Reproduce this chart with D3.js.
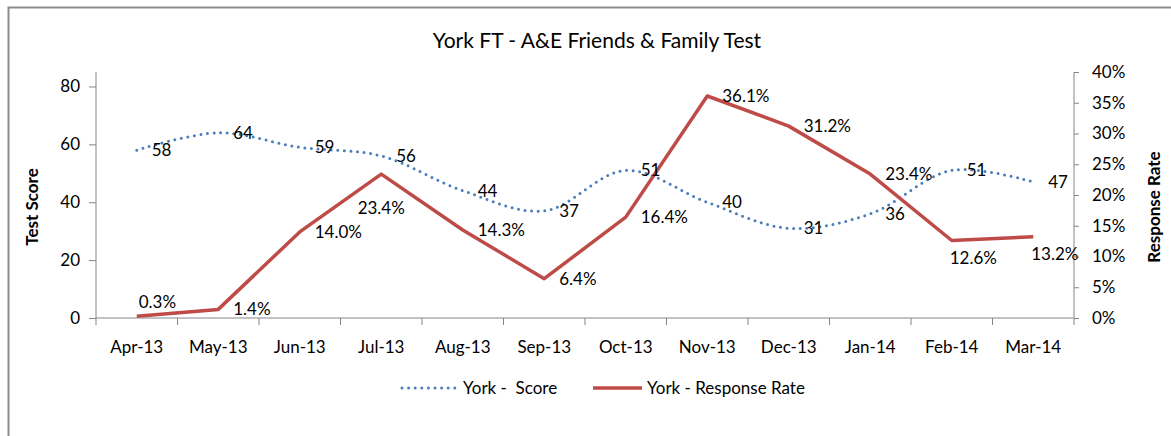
<!DOCTYPE html>
<html>
<head>
<meta charset="utf-8">
<script src="https://cdn.jsdelivr.net/npm/d3@7"></script>
<style>
  body { margin: 0; background: #fff; }
  text { font-family: Lato, "Open Sans", sans-serif; fill: #000; }
</style>
</head>
<body>
<svg id="chart"></svg>
<script>
// données
var months = ["Apr-13","May-13","Jun-13","Jul-13","Aug-13","Sep-13","Oct-13","Nov-13","Dec-13","Jan-14","Feb-14","Mar-14"];
var score = [58, 64, 59, 56, 44, 37, 51, 40, 31, 36, 51, 47];
var rate = [0.003, 0.014, 0.140, 0.234, 0.143, 0.064, 0.164, 0.361, 0.312, 0.234, 0.126, 0.132];
var scoreTicks = [0, 20, 40, 60, 80];
var rateTicks = [0, 0.05, 0.10, 0.15, 0.20, 0.25, 0.30, 0.35, 0.40];
// position des étiquettes de la courbe rouge
var rateLabelPos = ["up","right","right","below","right","right","right","right","right","right","low","low"];

var w = 1171, h = 436;
var pLeft = 96, pRight = 1074, pTop = 72, pBottom = 318;
var fs = 17;

var svg = d3.select("#chart").attr("width", w).attr("height", h);

// cadre
svg.append("rect")
    .attr("x", 8.5).attr("y", 7.5)
    .attr("width", 1300).attr("height", 600)
    .attr("fill", "none").attr("stroke", "#8c8c8c").attr("stroke-width", 2);

svg.append("text")
    .attr("x", 597).attr("y", 48)
    .attr("text-anchor", "middle")
    .attr("font-size", 21)
    .text("York FT - A&E Friends & Family Test");

var x = d3.scaleBand().domain(months).range([pLeft, pRight]);
var yL = d3.scaleLinear().domain([0, 85]).range([pBottom, pTop]);
var yR = d3.scaleLinear().domain([0, 0.4]).range([pBottom, pTop]);
var cx = function(i){ return x(months[i]) + x.bandwidth() / 2; };

var axisColor = "#868686";

// axe X
var gx = svg.append("g").attr("transform", "translate(0," + pBottom + ")");
gx.append("line").attr("x1", pLeft).attr("x2", pRight).attr("stroke", axisColor);
gx.selectAll(".tk").data(d3.range(months.length + 1)).enter().append("line")
    .attr("x1", function(i){ return pLeft + i * x.bandwidth(); })
    .attr("x2", function(i){ return pLeft + i * x.bandwidth(); })
    .attr("y1", 0).attr("y2", 7).attr("stroke", axisColor);
gx.selectAll(".lb").data(months).enter().append("text")
    .attr("x", function(d, i){ return cx(i); })
    .attr("y", 35)
    .attr("text-anchor", "middle")
    .attr("font-size", fs)
    .text(function(d){ return d; });

// axe gauche
var axL = d3.axisLeft(yL).tickValues(scoreTicks).tickSize(7).tickPadding(9);
var gl = svg.append("g").attr("transform", "translate(" + pLeft + ",0)").call(axL);
// axe droit
var axR = d3.axisRight(yR).tickValues(rateTicks).tickSize(5).tickPadding(13).tickFormat(d3.format(".0%"));
var gr = svg.append("g").attr("transform", "translate(" + pRight + ",0)").call(axR);
[gl, gr].forEach(function(g){
    g.select(".domain").attr("stroke", axisColor).attr("d", "M0," + pBottom + "V" + pTop);
    g.selectAll(".tick line").attr("stroke", axisColor);
    g.selectAll(".tick text").attr("font-size", fs).attr("font-family", "Lato").attr("fill", "#000");
});

svg.append("text")
    .attr("transform", "translate(38,207) rotate(-90)")
    .attr("text-anchor", "middle").attr("font-size", 17).attr("font-weight", "bold")
    .text("Test Score");
svg.append("text")
    .attr("transform", "translate(1160,207) rotate(-90)")
    .attr("text-anchor", "middle").attr("font-size", 17).attr("font-weight", "bold")
    .text("Response Rate");

var blue = "#4a7ebb", red = "#be4b48";

// courbe du score (lissée, pointillée)
var lineScore = d3.line()
    .x(function(d, i){ return cx(i); })
    .y(function(d){ return yL(d); })
    .curve(d3.curveCatmullRom.alpha(0.5));
svg.append("path")
    .attr("d", lineScore(score))
    .attr("fill", "none").attr("stroke", blue)
    .attr("stroke-width", 3).attr("stroke-linecap", "round")
    .attr("stroke-dasharray", "0 6.6");

// taux de réponse
var lineRate = d3.line()
    .x(function(d, i){ return cx(i); })
    .y(function(d){ return yR(d); });
svg.append("path")
    .attr("d", lineRate(rate))
    .attr("fill", "none").attr("stroke", red)
    .attr("stroke-width", 3.5).attr("stroke-linejoin", "round");

// étiquettes
svg.selectAll(".sl").data(score).enter().append("text")
    .attr("x", function(d, i){ return cx(i) + 15; })
    .attr("y", function(d){ return yL(d) + 6; })
    .attr("font-size", fs)
    .text(function(d){ return d; });

var pos = {
    right: {dx: 15, dy: 6, anchor: "start"},
    up:    {dx: 2, dy: -8, anchor: "start"},
    below: {dx: 0, dy: 40, anchor: "middle"},
    low:   {dx: -2, dy: 23, anchor: "start"}
};
svg.selectAll(".rl").data(rate).enter().append("text")
    .attr("x", function(d, i){ return cx(i) + pos[rateLabelPos[i]].dx; })
    .attr("y", function(d, i){ return yR(d) + pos[rateLabelPos[i]].dy; })
    .attr("text-anchor", function(d, i){ return pos[rateLabelPos[i]].anchor; })
    .attr("font-size", fs)
    .text(function(d){ return d3.format(".1%")(d); });

// légende
var lg = svg.append("g").attr("transform", "translate(0,388)");
lg.append("line").attr("x1", 402).attr("x2", 455)
    .attr("stroke", blue).attr("stroke-width", 3).attr("stroke-linecap", "round")
    .attr("stroke-dasharray", "0 6.6");
lg.append("text").attr("x", 463).attr("y", 6).attr("font-size", fs)
    .attr("xml:space", "preserve").style("white-space", "pre")
    .text("York -  Score");
lg.append("line").attr("x1", 593).attr("x2", 642)
    .attr("stroke", red).attr("stroke-width", 3.5);
lg.append("text").attr("x", 647).attr("y", 6).attr("font-size", fs)
    .text("York - Response Rate");
</script>
</body>
</html>
